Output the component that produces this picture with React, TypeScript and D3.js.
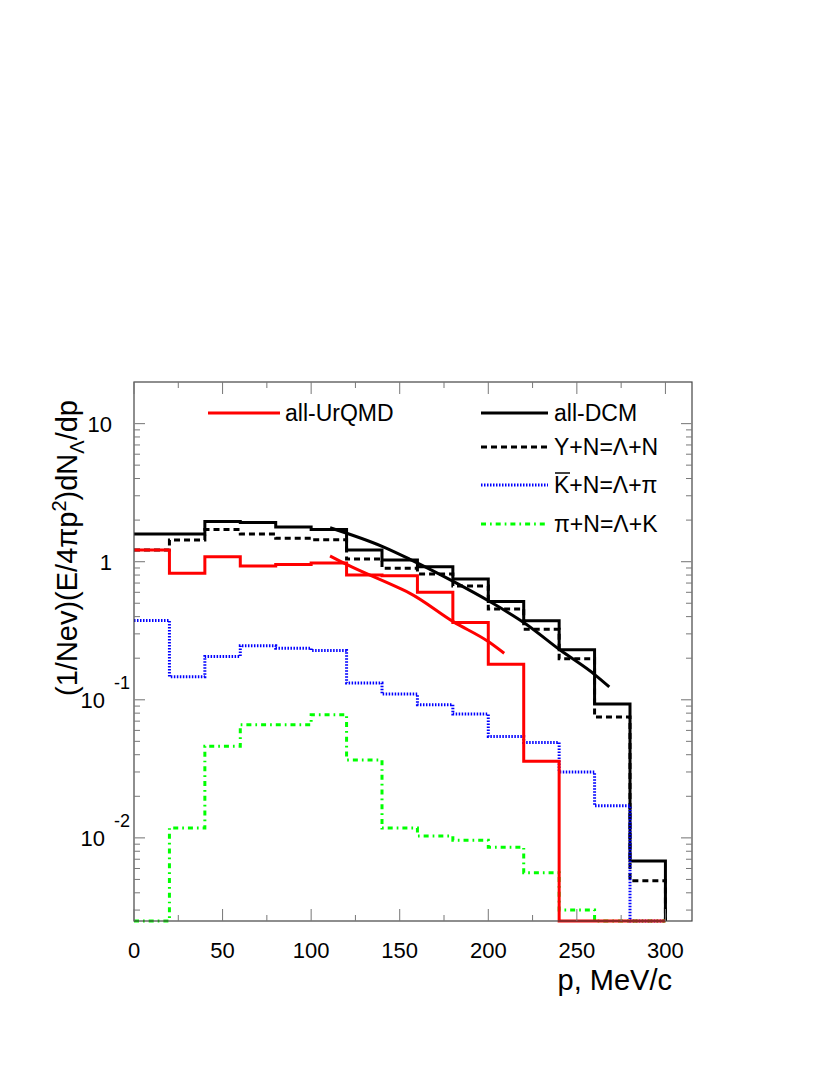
import React from 'react';
import * as d3 from 'd3';

// ---- data ----
const binEdges = [0, 20, 40, 60, 80, 100, 120, 140, 160, 180, 200, 220, 240, 260, 280, 300];
const allDCM = [1.585, 1.585, 1.95, 1.92, 1.78, 1.71, 1.215, 1.03, 0.92, 0.75, 0.514, 0.374, 0.23, 0.093, 0.0068];
const yNLambdaN = [1.215, 1.435, 1.71, 1.585, 1.477, 1.44, 1.046, 0.896, 0.815, 0.667, 0.455, 0.324, 0.198, 0.075, 0.0049];
const allUrQMD = [1.215, 0.824, 1.087, 0.93, 0.955, 0.98, 0.8, 0.79, 0.6, 0.362, 0.181, 0.0358, 0, 0, 0];
const kbarNLambdaPi = [0.375, 0.147, 0.206, 0.246, 0.236, 0.227, 0.132, 0.11, 0.092, 0.0788, 0.0543, 0.049, 0.03, 0.0171, 0];
const piNLambdaK = [0, 0.0118, 0.046, 0.066, 0.066, 0.078, 0.0367, 0.0118, 0.0103, 0.0096, 0.00855, 0.00558, 0.003, 0, 0];

// fit curves (p, value)
const fitDCM_p = [110.7, 140.7, 155.8, 180.2, 201, 220.8, 240.6, 260.4, 268.3];
const fitDCM_v = [1.76, 1.28, 1.04, 0.72, 0.513, 0.357, 0.229, 0.151, 0.124];
const fitUrQMD_p = [110.7, 120, 150.1, 155.8, 180.2, 200, 209];
const fitUrQMD_v = [1.1, 0.955, 0.64, 0.59, 0.368, 0.264, 0.217];

const xTicksMajor = [0, 50, 100, 150, 200, 250, 300];
const xTicksMinor = [25, 75, 125, 175, 225, 275];
const yDecades = [-2, -1, 0, 1];

const FONT = "'Liberation Sans', Arial, Helvetica, sans-serif";

const X0 = 134, X1 = 692, Y0 = 382, Y1 = 921;
const YMIN = 2.5e-3, YMAX = 20;

const xScale = d3.scaleLinear().domain([0, 315]).range([X0, X1]);
const yScale = d3.scaleLog().domain([YMIN, YMAX]).range([Y1, Y0]);

const yOf = (v: number) => (v > YMIN ? yScale(v) : Y1);

function histPath(values: number[]): string {
  const pts: [number, number][] = [];
  values.forEach((v, i) => {
    pts.push([xScale(binEdges[i]), yOf(v)]);
    pts.push([xScale(binEdges[i + 1]), yOf(v)]);
  });
  pts.push([xScale(binEdges[binEdges.length - 1]), Y1]);
  return d3.line()(pts) as string;
}

function fitPath(ps: number[], vs: number[]): string {
  const pts: [number, number][] = ps.map((p, i) => [xScale(p), yScale(vs[i])]);
  return d3.line().curve(d3.curveMonotoneX)(pts) as string;
}

const series = [
  { vals: allDCM, color: '#000000', dash: undefined as string | undefined },
  { vals: yNLambdaN, color: '#000000', dash: '6,4' },
  { vals: kbarNLambdaPi, color: '#0000ff', dash: '1.5,1.5' },
  { vals: piNLambdaK, color: '#00ff00', dash: '5,4,1.7,4' },
  { vals: allUrQMD, color: '#ff0000', dash: undefined },
];

export default function App() {
  const minorY: number[] = [];
  for (let d = -3; d <= 1; d++) {
    for (let k = 2; k <= 9; k++) {
      const v = k * Math.pow(10, d);
      if (v > YMIN && v < YMAX) minorY.push(v);
    }
  }
  const legendR = [
    { label: 'all-DCM', color: '#000', dash: undefined as string | undefined, y: 413 },
    { label: 'Y+N=Λ+N', color: '#000', dash: '6,4', y: 447 },
    { label: 'KBAR', color: '#0000ff', dash: '1.5,1.5', y: 485 },
    { label: 'π+N=Λ+K', color: '#00ff00', dash: '5,4,1.7,4', y: 524 },
  ];
  return (
    <svg width={830} height={1075} style={{ position: 'absolute', left: 0, top: 0, background: '#fff' }} fontFamily={FONT}>
      <rect x={0} y={0} width={830} height={1075} fill="#fff" />
      {/* histograms */}
      {series.map((s, i) => (
        <path key={i} d={histPath(s.vals)} fill="none" stroke={s.color} strokeWidth={3} strokeDasharray={s.dash} />
      ))}
      {/* fits */}
      <path d={fitPath(fitDCM_p, fitDCM_v)} fill="none" stroke="#000" strokeWidth={3} />
      <path d={fitPath(fitUrQMD_p, fitUrQMD_v)} fill="none" stroke="#ff0000" strokeWidth={3} />

      {/* frame */}
      <rect x={X0} y={Y0} width={X1 - X0} height={Y1 - Y0} fill="none" stroke="#444" strokeWidth={1.2} />
      {/* x ticks */}
      {xTicksMajor.map((t) => (
        <g key={'xM' + t}>
          <line x1={xScale(t)} x2={xScale(t)} y1={Y1} y2={Y1 - 12} stroke="#777" />
          <line x1={xScale(t)} x2={xScale(t)} y1={Y0} y2={Y0 + 12} stroke="#777" />
          <text x={xScale(t)} y={958} fontSize={22} textAnchor="middle">{t}</text>
        </g>
      ))}
      {xTicksMinor.map((t) => (
        <g key={'xm' + t}>
          <line x1={xScale(t)} x2={xScale(t)} y1={Y1} y2={Y1 - 6} stroke="#777" />
          <line x1={xScale(t)} x2={xScale(t)} y1={Y0} y2={Y0 + 6} stroke="#777" />
        </g>
      ))}
      {/* y ticks */}
      {yDecades.map((d) => {
        const y = yScale(Math.pow(10, d));
        return (
          <g key={'yM' + d}>
            <line x1={X0} x2={X0 + 11} y1={y} y2={y} stroke="#888" strokeWidth={1.2} />
            <line x1={X1} x2={X1 - 11} y1={y} y2={y} stroke="#888" strokeWidth={1.2} />
            {d === 0 && <text x={112} y={y + 8} fontSize={22} textAnchor="end">1</text>}
            {d === 1 && <text x={112} y={y + 8} fontSize={22} textAnchor="end">10</text>}
            {d < 0 && (
              <g>
                <text x={105} y={y + 8} fontSize={22} textAnchor="end">10</text>
                <text x={114} y={y - 11} fontSize={18} textAnchor="start">{String(d)}</text>
              </g>
            )}
          </g>
        );
      })}
      {minorY.map((v, i) => {
        const y = yScale(v);
        return (
          <g key={'ym' + i}>
            <line x1={X0} x2={X0 + 6} y1={y} y2={y} stroke="#777" />
            <line x1={X1} x2={X1 - 6} y1={y} y2={y} stroke="#777" />
          </g>
        );
      })}

      {/* axis titles */}
      <text x={672} y={990} fontSize={29} textAnchor="end">p, MeV/c</text>
      <text transform="translate(77,400) rotate(-90)" fontSize={29} textAnchor="end">
        (1/Nev)(E/4πp<tspan dy={-11} fontSize={20}>2</tspan><tspan dy={11}>)dN</tspan><tspan dy={7} fontSize={20}>Λ</tspan><tspan dy={-7}>/dp</tspan>
      </text>

      {/* legend */}
      <line x1={208} x2={280} y1={413} y2={413} stroke="#ff0000" strokeWidth={3} />
      <text x={285} y={421} fontSize={23}>all-UrQMD</text>
      {legendR.map((l) => (
        <g key={l.label}>
          <line x1={481} x2={548} y1={l.y} y2={l.y} stroke={l.color} strokeWidth={3} strokeDasharray={l.dash} />
          {l.label === 'KBAR' ? (
            <g>
              <text x={554} y={l.y + 8} fontSize={23}>K+N=Λ+π</text>
              <line x1={555} x2={570} y1={l.y - 12} y2={l.y - 12} stroke="#000" strokeWidth={1.5} />
            </g>
          ) : (
            <text x={554} y={l.y + 8} fontSize={23}>{l.label}</text>
          )}
        </g>
      ))}
    </svg>
  );
}
